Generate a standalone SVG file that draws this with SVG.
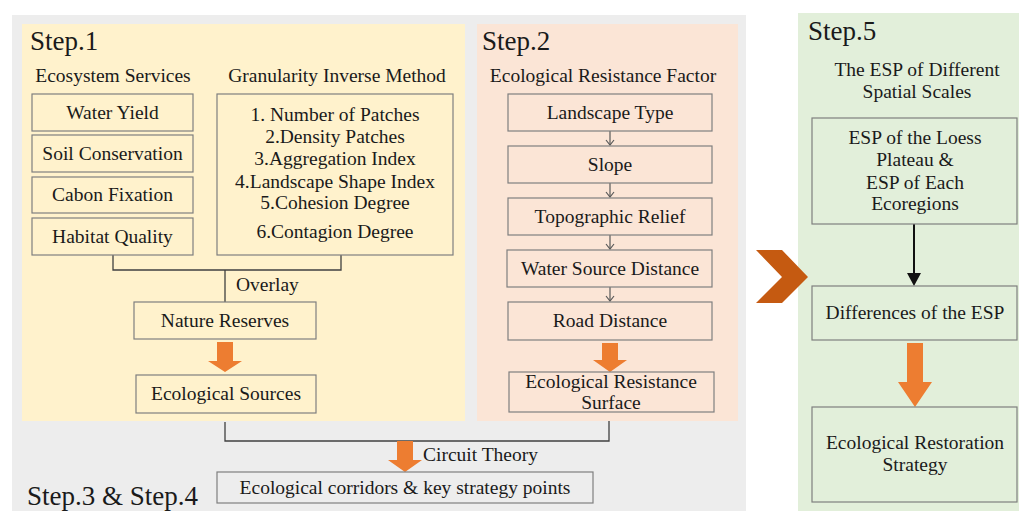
<svg xmlns="http://www.w3.org/2000/svg" width="1019" height="511" viewBox="0 0 1019 511">
<style>
text{font-family:"Liberation Serif","Times New Roman",serif;fill:#1a1a1a;font-size:19.5px}
.c{text-anchor:middle}
.step{font-size:27px}
.box{fill:none;stroke:#7f7f7f;stroke-width:1.2}
.ln{fill:none;stroke:#404040;stroke-width:1.3}
.thin{fill:none;stroke:#595959;stroke-width:1.2}
.oa{fill:#ED7D31}
</style>
<defs>
<marker id="v" viewBox="0 0 10 10" refX="9" refY="5" markerWidth="10" markerHeight="10" markerUnits="userSpaceOnUse" orient="auto">
<path d="M4,1 L9,5 L4,9" fill="none" stroke="#595959" stroke-width="1.2"/>
</marker>
</defs>
<g id="panels">
<rect x="12" y="15" width="734" height="496" fill="#EDEDED"/>
<rect x="22" y="24" width="443" height="397" fill="#FFF2CC"/>
<rect x="477" y="24" width="261" height="397" fill="#FBE5D6"/>
<rect x="798" y="13" width="221" height="498" fill="#E2EFDA"/>
<polygon points="756,250 782,250 808,277 782,303 756,303 782,277" fill="#C55A11"/>
</g>
<g id="labels">
<text class="step" x="30" y="50">Step.1</text>
<text class="step" x="482" y="50">Step.2</text>
<text class="step" x="808" y="40">Step.5</text>
<text class="step" x="27" y="505">Step.3 &amp; Step.4</text>
<text class="c" x="113" y="82">Ecosystem Services</text>
<text class="c" x="337" y="82">Granularity Inverse Method</text>
<text class="c" x="603" y="82">Ecological Resistance Factor</text>
<text class="c" x="917" y="76">The ESP of Different</text>
<text class="c" x="917" y="98">Spatial Scales</text>
<text x="236" y="291">Overlay</text>
<text x="423" y="461">Circuit Theory</text>
</g>
<g id="connectors">
<path class="ln" d="M113 255 V270 H341 V255 M225 270 V302"/>
<path class="ln" d="M225 422 V441 H609 V421"/>
<line class="thin" x1="610" y1="131" x2="610" y2="145" marker-end="url(#v)"/>
<line class="thin" x1="610" y1="183" x2="610" y2="197" marker-end="url(#v)"/>
<line class="thin" x1="610" y1="235" x2="610" y2="249" marker-end="url(#v)"/>
<line class="thin" x1="610" y1="287" x2="610" y2="301" marker-end="url(#v)"/>
<polygon class="oa" points="217,342 233,342 233,361 242,361 225,372 208,361 217,361"/>
<polygon class="oa" points="397,441 413,441 413,460 422,460 405,472 388,460 397,460"/>
<polygon class="oa" points="602,343 618,343 618,360 627,360 610,372 593,360 602,360"/>
<polygon class="oa" points="907,343 923,343 923,382 932,382 915,407 898,382 907,382"/>
<line x1="914" y1="224" x2="914" y2="274" stroke="#111" stroke-width="2"/>
<polygon points="907,273 921,273 914,286" fill="#111"/>
</g>
<g id="water-yield"><rect class="box" x="32" y="94" width="161" height="37"/><text class="c" x="112.5" y="119">Water Yield</text></g>
<g id="soil-conservation"><rect class="box" x="32" y="135" width="161" height="37"/><text class="c" x="112.5" y="160">Soil Conservation</text></g>
<g id="cabon-fixation"><rect class="box" x="32" y="177" width="161" height="36"/><text class="c" x="112.5" y="201">Cabon Fixation</text></g>
<g id="habitat-quality"><rect class="box" x="32" y="218" width="161" height="37"/><text class="c" x="112.5" y="243">Habitat Quality</text></g>
<g id="granularity"><rect class="box" x="217" y="94" width="236" height="161"/>
<text class="c" x="335" y="121">1. Number of Patches</text>
<text class="c" x="335" y="143">2.Density Patches</text>
<text class="c" x="335" y="165">3.Aggregation Index</text>
<text class="c" x="335" y="188">4.Landscape Shape Index</text>
<text class="c" x="335" y="209">5.Cohesion Degree</text>
<text class="c" x="335" y="238">6.Contagion Degree</text></g>
<g id="nature-reserves"><rect class="box" x="134" y="302" width="182" height="37"/><text class="c" x="225" y="327">Nature Reserves</text></g>
<g id="ecological-sources"><rect class="box" x="136" y="375" width="180" height="38"/><text class="c" x="226" y="400">Ecological Sources</text></g>
<g id="landscape-type"><rect class="box" x="508" y="94" width="204" height="37"/><text class="c" x="610" y="119">Landscape Type</text></g>
<g id="slope"><rect class="box" x="508" y="146" width="204" height="37"/><text class="c" x="610" y="171">Slope</text></g>
<g id="topographic-relief"><rect class="box" x="508" y="198" width="204" height="37"/><text class="c" x="610" y="223">Topographic Relief</text></g>
<g id="water-source-distance"><rect class="box" x="507" y="250" width="205" height="37"/><text class="c" x="610" y="275">Water Source Distance</text></g>
<g id="road-distance"><rect class="box" x="508" y="302" width="204" height="38"/><text class="c" x="610" y="327">Road Distance</text></g>
<g id="resistance-surface"><rect class="box" x="509" y="372" width="205" height="40"/><text class="c" x="611" y="388">Ecological Resistance</text><text class="c" x="611" y="409">Surface</text></g>
<g id="corridors"><rect class="box" x="217" y="472" width="376" height="31"/><text class="c" x="405" y="494">Ecological corridors &amp; key strategy points</text></g>
<g id="esp-scales"><rect class="box" x="812" y="118" width="205" height="106"/>
<text class="c" x="915" y="144">ESP of the Loess</text>
<text class="c" x="915" y="166">Plateau &amp;</text>
<text class="c" x="915" y="189">ESP of Each</text>
<text class="c" x="915" y="210">Ecoregions</text></g>
<g id="esp-differences"><rect class="box" x="812" y="286" width="205" height="54"/><text class="c" x="915" y="319">Differences of the ESP</text></g>
<g id="restoration"><rect class="box" x="812" y="407" width="205" height="95"/><text class="c" x="915" y="449">Ecological Restoration</text><text class="c" x="915" y="471">Strategy</text></g>
</svg>
